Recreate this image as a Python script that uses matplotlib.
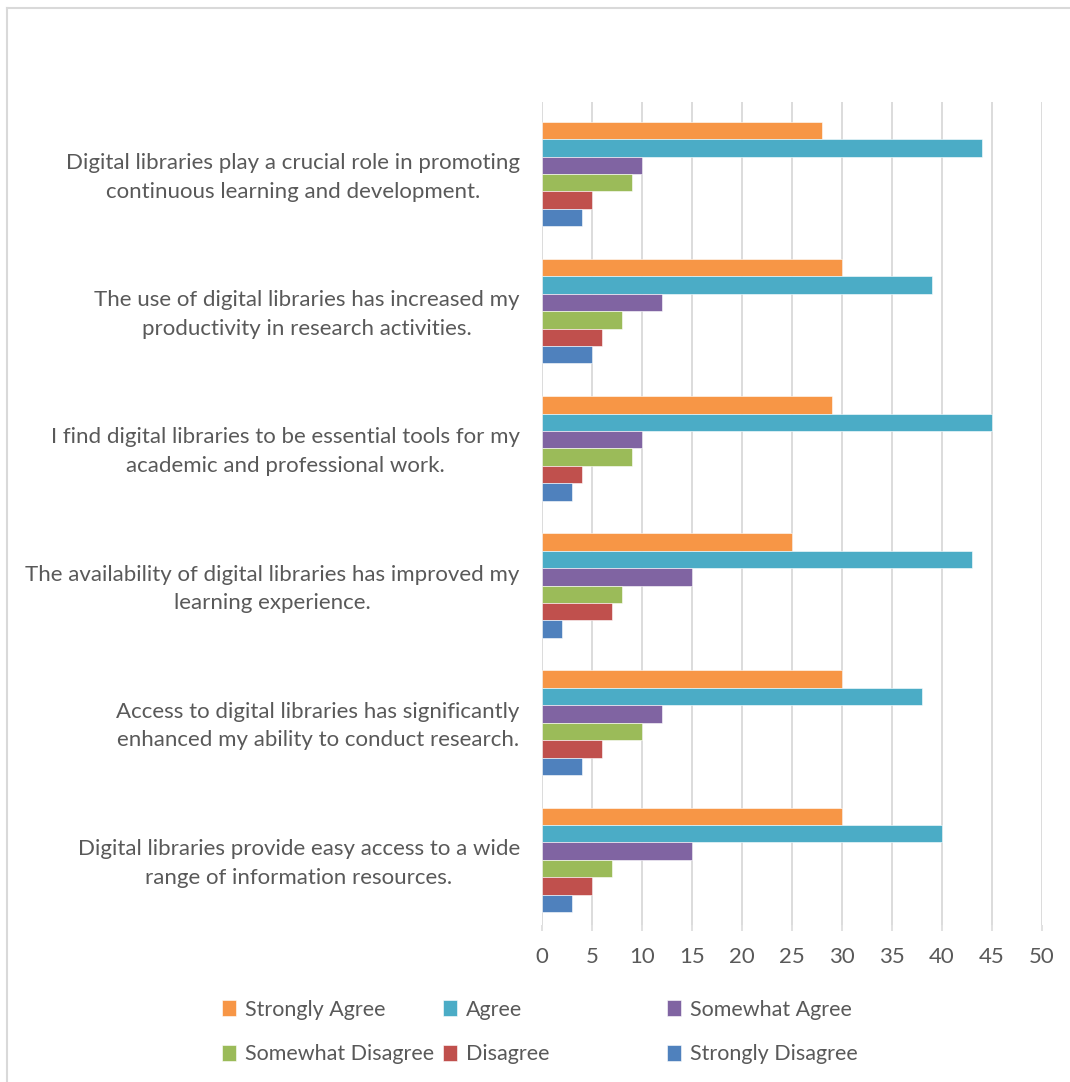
import numpy as np
import matplotlib.pyplot as plt
import matplotlib.transforms as mtransforms
from matplotlib.lines import Line2D

plt.rcParams['font.family'] = ['Lato', 'DejaVu Sans']

# kategorijas (no augšas uz leju)
categories = [
    "Digital libraries play a crucial role in promoting\ncontinuous learning and development.",
    "The use of digital libraries has increased my\nproductivity in research activities.",
    "I find digital libraries to be essential tools for my\nacademic and professional work.",
    "The availability of digital libraries has improved my\nlearning experience.",
    "Access to digital libraries has significantly\nenhanced my ability to conduct research.",
    "Digital libraries provide easy access to a wide\nrange of information resources.",
]
series = ["Strongly Agree", "Agree", "Somewhat Agree",
          "Somewhat Disagree", "Disagree", "Strongly Disagree"]
strongly_agree = [28, 30, 29, 25, 30, 30]
agree = [44, 39, 45, 43, 38, 40]
somewhat_agree = [10, 12, 10, 15, 12, 15]
somewhat_disagree = [9, 8, 9, 8, 10, 7]
disagree = [5, 6, 4, 7, 6, 5]
strongly_disagree = [4, 5, 3, 2, 4, 3]
values = [strongly_agree, agree, somewhat_agree, somewhat_disagree, disagree, strongly_disagree]
colors = ["#F79646", "#4BACC6", "#8064A2", "#9BBB59", "#C0504D", "#4F81BD"]
xticks = [0, 5, 10, 15, 20, 25, 30, 35, 40, 45, 50]

fig = plt.figure(figsize=(10.7, 10.82), dpi=100, facecolor='w')
ax = fig.add_axes([542/1070, 1-925/1082, 500/1070, 823/1082])

n = len(categories)
ypos = np.arange(n)[::-1] - 0.025  # augšējā kategorija augšā
h = 0.127
handles = []
for j, (vals, c) in enumerate(zip(values, colors)):
    b = ax.barh(ypos + (2.5 - j) * h, vals, height=h, color=c,
                edgecolor='white', linewidth=0.4, label=series[j], zorder=3)
    handles.append(b)

ax.set_xlim(0, 50)
ax.set_ylim(-0.5, n - 0.5)
ax.set_xticks(xticks)
ax.set_yticks(ypos)
ax.set_yticklabels(categories, multialignment='center', linespacing=1.55)
ax.tick_params(axis='y', length=0, pad=16, labelsize=16, labelcolor='#595959')
ax.tick_params(axis='x', length=4, color='#d9d9d9', width=1.1, pad=12,
               labelsize=16, labelcolor='#595959')
ax.grid(axis='x', color='#d9d9d9', linewidth=1.3, zorder=0)
for s in ax.spines.values():
    s.set_visible(False)
# nedaudz paceļ y etiķetes
shift = mtransforms.ScaledTranslation(0, 3/100, fig.dpi_scale_trans)
for lbl in ax.get_yticklabels():
    lbl.set_transform(lbl.get_transform() + shift)

# leģenda: trīs kolonnas
leg_kw = dict(frameon=False, fontsize=15.5, labelcolor='#595959', handlelength=0.65,
              handleheight=0.8, handletextpad=0.45, labelspacing=1.15,
              loc='upper left', borderaxespad=0)
for (i1, i2), x in [((0, 3), 213), ((1, 4), 434), ((2, 5), 658)]:
    fig.legend([handles[i1], handles[i2]], [series[i1], series[i2]],
               bbox_to_anchor=(x/1070, 1-991/1082), **leg_kw)

# rāmis
fig.add_artist(Line2D([7/1070, 1.0], [1-8/1082, 1-8/1082], color='#d9d9d9', linewidth=1.5))
fig.add_artist(Line2D([7/1070, 7/1070], [1-8/1082, 0], color='#d9d9d9', linewidth=1.5))

fig.savefig('out.png', dpi=100, facecolor='w')
